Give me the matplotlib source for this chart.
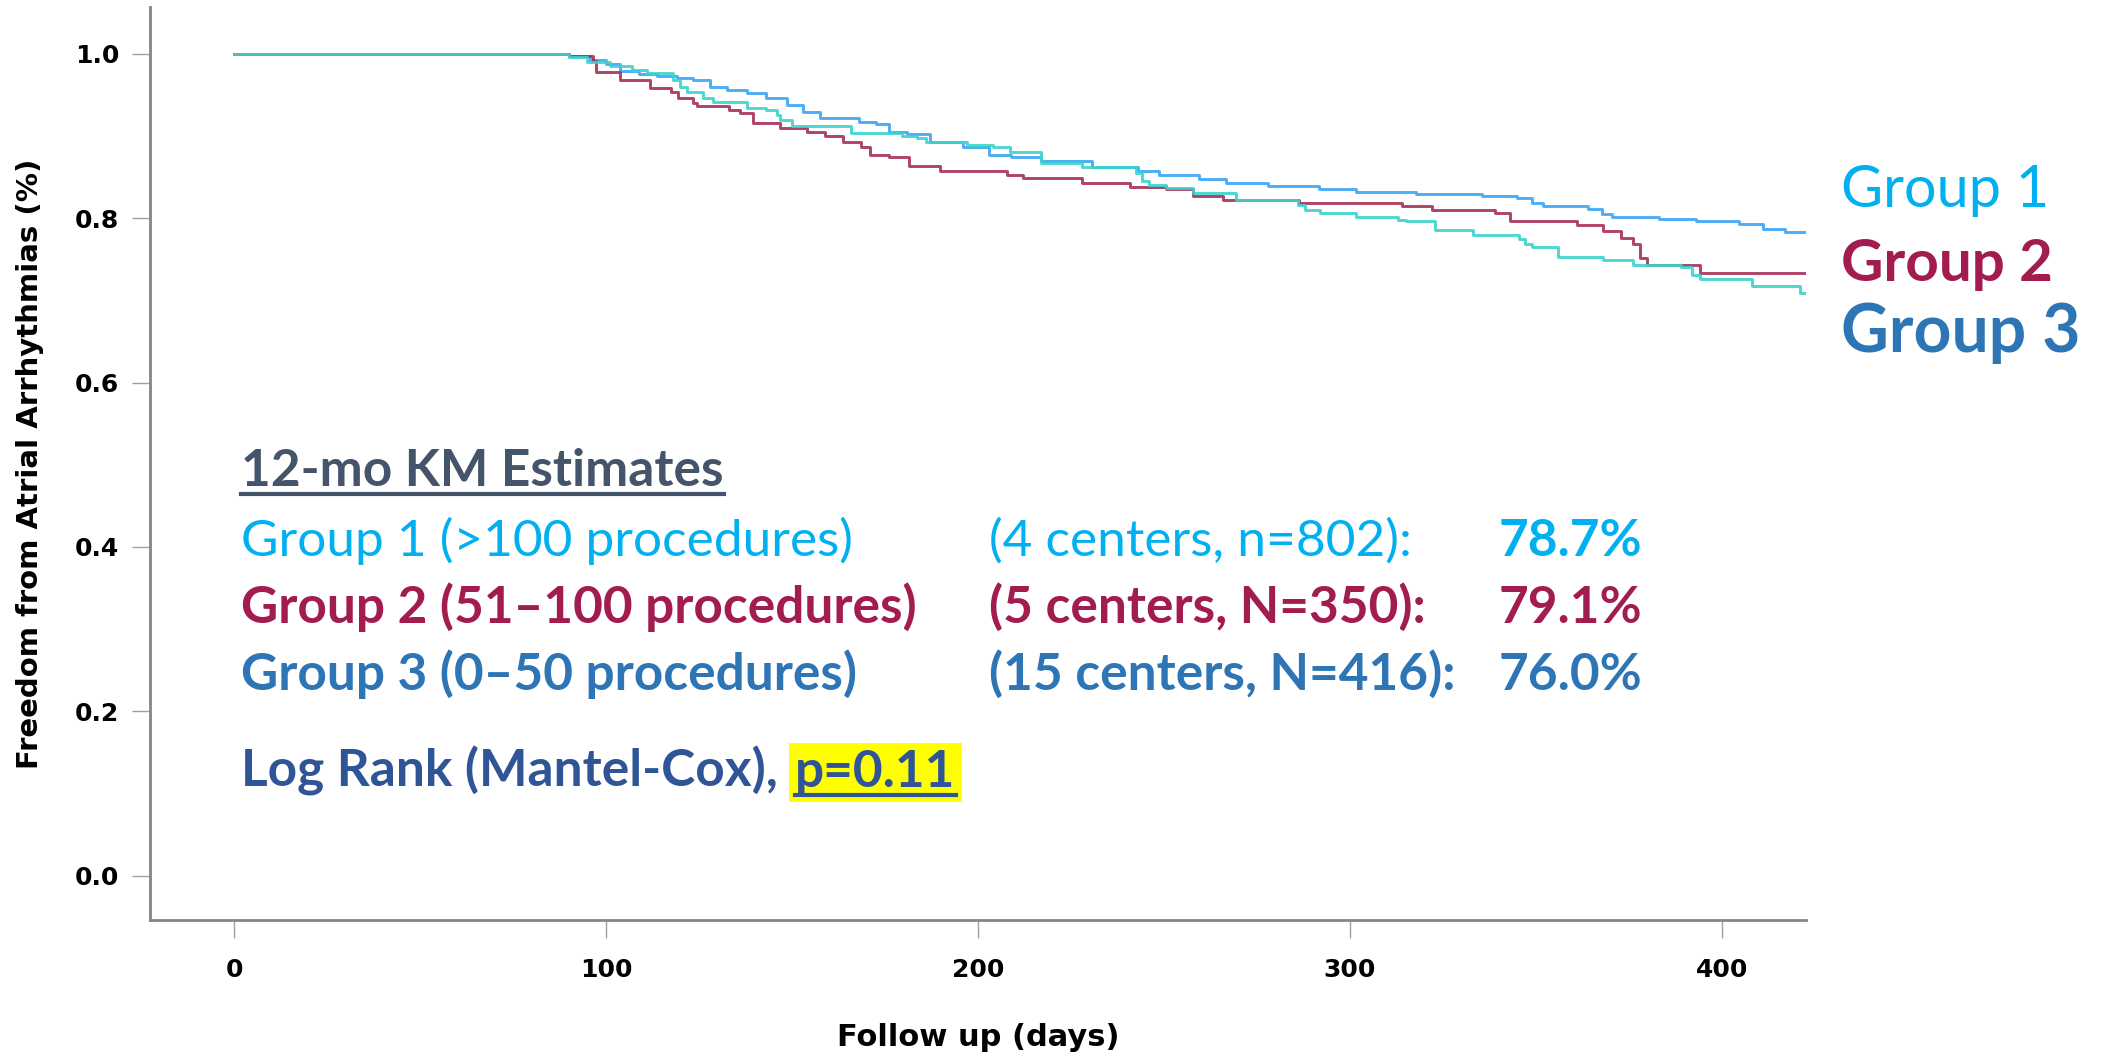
import matplotlib
matplotlib.use("Agg")
import matplotlib.pyplot as plt
from matplotlib.lines import Line2D

# Kaplan-Meier step points (days, survival)
g1_days = [0, 90, 95.6, 100, 103.7, 109, 113.6, 119, 123.5, 128,
           132.5, 137.8, 143, 148.6, 153, 157.5, 168, 172.7, 176, 181,
           187, 196, 203, 209, 217, 230.8, 243, 248.8, 259.5, 266.8,
           278, 291.8, 301.7, 317.8, 326.7, 335.6, 345, 349, 351.8, 364,
           367.8, 370.5, 383, 393, 404.6, 411, 417, 423]
g1_surv = [1.0, 0.997, 0.993, 0.987, 0.979, 0.976, 0.973, 0.971, 0.968, 0.960,
           0.956, 0.952, 0.946, 0.938, 0.929, 0.922, 0.917, 0.914, 0.905, 0.902,
           0.893, 0.886, 0.877, 0.874, 0.869, 0.862, 0.857, 0.853, 0.848, 0.843,
           0.839, 0.836, 0.832, 0.830, 0.829, 0.827, 0.825, 0.819, 0.815, 0.811,
           0.805, 0.802, 0.799, 0.797, 0.793, 0.787, 0.783, 0.783]

g2_days = [0, 90, 96.5, 97.4, 103.7, 111.8, 117.6, 119.4, 123.5, 124.4,
           133, 136, 139.5, 146.7, 154, 159, 163.6, 168.7, 171, 176,
           181.6, 189.7, 207.7, 212, 228, 241, 250.6, 257.7, 265.8, 286.4,
           314, 322, 339, 343, 361, 368, 373, 376, 378, 380,
           394, 422]
g2_surv = [1.0, 0.997, 0.991, 0.978, 0.968, 0.958, 0.954, 0.946, 0.940, 0.936,
           0.932, 0.928, 0.916, 0.910, 0.905, 0.900, 0.893, 0.887, 0.877, 0.874,
           0.863, 0.857, 0.853, 0.849, 0.843, 0.838, 0.835, 0.827, 0.822, 0.819,
           0.815, 0.810, 0.806, 0.797, 0.792, 0.784, 0.776, 0.768, 0.752, 0.743,
           0.733, 0.733]

g3_days = [0, 90, 95, 101, 107, 111, 118, 120, 121.7, 126,
           128.7, 137.8, 143, 145.9, 146.7, 150, 166, 179.7, 183.5, 186,
           197, 204, 208.5, 217, 228, 242.6, 244, 246, 250.6, 257.7,
           269.5, 286, 288, 292, 301.7, 313, 315, 323, 333, 345.5,
           347, 349, 356, 368, 376, 389, 392, 394, 408, 421,
           422]
g3_surv = [1.0, 0.996, 0.990, 0.985, 0.980, 0.977, 0.968, 0.960, 0.954, 0.946,
           0.941, 0.934, 0.932, 0.925, 0.920, 0.912, 0.904, 0.900, 0.898, 0.893,
           0.889, 0.887, 0.880, 0.867, 0.862, 0.855, 0.845, 0.840, 0.837, 0.831,
           0.822, 0.816, 0.810, 0.806, 0.802, 0.798, 0.796, 0.786, 0.779, 0.775,
           0.768, 0.765, 0.753, 0.749, 0.743, 0.740, 0.731, 0.726, 0.718, 0.709,
           0.709]

group_names = ["Group 1", "Group 2", "Group 3"]
group_desc = ["Group 1 (>100 procedures)", "Group 2 (51\u2013100 procedures)",
              "Group 3 (0\u201350 procedures)"]
group_centers = ["(4 centers, n=802):", "(5 centers, N=350):", "(15 centers, N=416):"]
km_12mo = ["78.7%", "79.1%", "76.0%"]
p_value = "p=0.11"

curve_colors = ["#3AA4F5", "#A62E5A", "#3AD3CC"]
text_colors = ["#00B0F0", "#A21C50", "#2E75B6"]
text_weights = ["normal", "bold", "bold"]

FONT = ["Lato", "DejaVu Sans"]
FS = 37

fig = plt.figure(figsize=(21.06, 10.54), dpi=100)
ax = fig.add_axes([0.0712, 0.1271, 0.7863, 0.8663])

for d, s, c in zip([g1_days, g2_days, g3_days], [g1_surv, g2_surv, g3_surv], curve_colors):
    ax.plot(d, s, drawstyle="steps-post", color=c, lw=2.1, alpha=0.9)

ax.set_xlim(-22.6, 422.6)
ax.set_ylim(-0.054, 1.057)
ax.set_xticks([0, 100, 200, 300, 400])
ax.set_yticks([0.0, 0.2, 0.4, 0.6, 0.8, 1.0])
ax.set_yticklabels(["0.0", "0.2", "0.4", "0.6", "0.8", "1.0"])
for side in ["top", "right"]:
    ax.spines[side].set_visible(False)
for side in ["left", "bottom"]:
    ax.spines[side].set_color("#858585")
    ax.spines[side].set_linewidth(2)
ax.tick_params(axis="both", direction="out", length=13, width=1, color="#a0a0a0",
               labelsize=18)
ax.tick_params(axis="y", pad=9)
ax.tick_params(axis="x", pad=14)
for lab in ax.get_xticklabels() + ax.get_yticklabels():
    lab.set_fontweight("bold")

ax.set_xlabel("Follow up (days)", fontsize=22, fontweight="bold", labelpad=30)
ax.set_ylabel("Freedom from Atrial Arrhythmias (%)", fontsize=21, fontweight="bold",
              labelpad=22)

# right-hand group labels
right_y = [0.813, 0.723, 0.637]
right_size = [41.5, 42, 47.5]
for i in range(3):
    ax.text(432, right_y[i], group_names[i], color=text_colors[i], fontsize=right_size[i],
            fontweight=text_weights[i], family=FONT, va="baseline", clip_on=False)

# estimates block
heading = ax.text(2, 0.474, "12-mo KM Estimates", color="#44546A", fontsize=FS,
                  fontweight="bold", family=FONT, va="baseline")
row_y = [0.389, 0.308, 0.226]
for i in range(3):
    ax.text(2, row_y[i], group_desc[i], color=text_colors[i], fontsize=FS,
            fontweight=text_weights[i], family=FONT, va="baseline")
    ax.text(203, row_y[i], group_centers[i], color=text_colors[i], fontsize=FS,
            fontweight=text_weights[i], family=FONT, va="baseline")
    ax.text(378.6, row_y[i], km_12mo[i], color=text_colors[i], fontsize=FS,
            fontweight="bold", family=FONT, va="baseline", ha="right")

logrank = ax.text(2, 0.108, "Log Rank (Mantel-Cox),", color="#2F5597", fontsize=FS,
                  fontweight="bold", family=FONT, va="baseline")

fig.canvas.draw()
renderer = fig.canvas.get_renderer()
inv = fig.transFigure.inverted()

lb = logrank.get_window_extent(renderer)
p_x = ax.transData.inverted().transform((lb.x1 + 17, 0))[0]
ptext = ax.text(p_x, 0.108, p_value, color="#2F5597", fontsize=FS, fontweight="bold",
                family=FONT, va="baseline",
                bbox=dict(boxstyle="square,pad=0.12", fc="#FFFF00", ec="none"))
fig.canvas.draw()


def underline(t, y_data, color):
    bb = t.get_window_extent(renderer)
    y_pix = ax.transData.transform((0, y_data))[1] - 8
    (x0, y0), (x1, _) = inv.transform([(bb.x0, y_pix), (bb.x1, y_pix)])
    fig.add_artist(Line2D([x0, x1], [y0, y0], transform=fig.transFigure,
                          color=color, lw=3))


underline(heading, 0.474, "#44546A")
underline(ptext, 0.108, "#2F5597")

fig.savefig("out.png", dpi=100)
